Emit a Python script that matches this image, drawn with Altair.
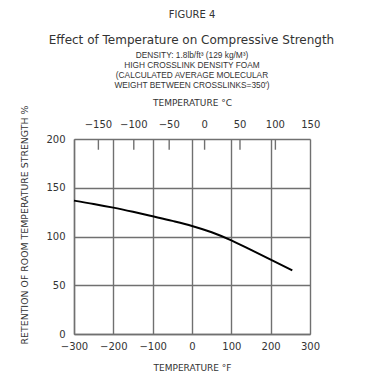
import altair as alt
import pandas as pd

# Curve: temperature (°F) vs retention of room-temperature strength (%)
temp_f = [-300, -250, -200, -150, -100, -50, 0, 50, 100, 150, 200, 255]
strength = [136.8, 133.4, 129.6, 125.3, 120.7, 116.0, 110.8, 104.3, 96.0, 86.2, 76.3, 65.3]

# Top (Celsius) axis
c_ticks = [-150, -100, -50, 0, 50, 100]
c_labels = [-150, -100, -50, 0, 50, 100, 150]

x_ticks = [-300, -200, -100, 0, 100, 200, 300]
y_ticks = [0, 50, 100, 150, 200]

title_lines = ["FIGURE 4", "Effect of Temperature on Compressive Strength"]
sub_lines = [
    "DENSITY: 1.8lb/ft³ (129 kg/M³)",
    "HIGH CROSSLINK DENSITY FOAM",
    "(CALCULATED AVERAGE MOLECULAR",
    "WEIGHT BETWEEN CROSSLINKS=350')",
]
top_title = "TEMPERATURE °C"
bottom_title = "TEMPERATURE °F"
y_title = "RETENTION OF ROOM TEMPERATURE STRENGTH %"

FONT = "DejaVu Sans"
NARROW = "Liberation Sans"
TXT = "#333333"
GRID = "#707070"

W, H = 236, 195

curve_df = pd.DataFrame({"f": temp_f, "s": strength})
ctick_df = pd.DataFrame({"c": c_ticks})
clabel_df = pd.DataFrame({"c": c_labels, "lab": [str(v).replace("-", "−") for v in c_labels]})

xs = alt.Scale(domain=[-300, 300], nice=False, zero=False)
ys = alt.Scale(domain=[0, 200], nice=False, zero=False)

xaxis = alt.Axis(
    values=x_ticks, grid=True, gridColor=GRID, gridWidth=1.4, gridOpacity=1,
    domainColor=GRID, domainWidth=1.4, ticks=False, labelPadding=7, labelOverlap=False,
    labelFlush=False, labelFontSize=10, labelFont=FONT, labelColor=TXT,
    title=bottom_title, titleFont=FONT, titleFontSize=9, titleFontWeight="normal",
    titleColor=TXT, titlePadding=12)

line = alt.Chart(curve_df).mark_line(color="black", strokeWidth=2, interpolate="monotone").encode(
    x=alt.X("f:Q", scale=xs, axis=xaxis),
    y=alt.Y("s:Q", scale=ys, axis=alt.Axis(
        values=y_ticks, grid=True, gridColor=GRID, gridWidth=1.4, gridOpacity=1,
        domainColor=GRID, domainWidth=1.4, ticks=False, labelPadding=9, labelOverlap=False,
        labelFlush=False, labelFontSize=10, labelFont=FONT, labelColor=TXT, title=None)),
)

ticks = alt.Chart(ctick_df).transform_calculate(f="datum.c * 9 / 5 + 32").mark_rule(
    color=GRID, strokeWidth=1.4
).encode(
    x=alt.X("f:Q", scale=xs, axis=xaxis),
    y=alt.datum(200),
    y2=alt.datum(189),
)

top_labels = alt.Chart(clabel_df).transform_calculate(f="datum.c * 9 / 5 + 32").mark_text(
    font=FONT, fontSize=10, color=TXT, baseline="middle"
).encode(
    x=alt.X("f:Q", scale=xs, axis=xaxis),
    y=alt.value(-14),
    text="lab:N",
)

def label(text, x, y, size, font=FONT, angle=0):
    return alt.Chart(pd.DataFrame({"t": [text]})).mark_text(
        font=font, fontSize=size, color=TXT, baseline="middle", align="center", angle=angle
    ).encode(x=alt.value(x), y=alt.value(y), text="t:N")

annots = [
    label(title_lines[0], 118, -124, 10),
    label(title_lines[1], 117.5, -99, 12),
]
for i, s in enumerate(sub_lines):
    annots.append(label(s, 118, -83 + i * 10, 8.3, font=NARROW))
annots.append(label(top_title, 118.5, -36, 9))
annots.append(label(y_title, -49, 86, 9.4, angle=270))

chart = alt.layer(line, ticks, top_labels, *annots).properties(
    width=W, height=H,
    autosize=alt.AutoSizeParams(type="none"),
    padding={"left": 66, "top": 131, "right": 30, "bottom": 40},
).configure_view(stroke=GRID, strokeWidth=1.4).configure_axis(
    labelOverlap=False, labelFlush=False
).configure(background="white")

chart.save("out.html", embed_options={"renderer": "svg", "actions": False})
